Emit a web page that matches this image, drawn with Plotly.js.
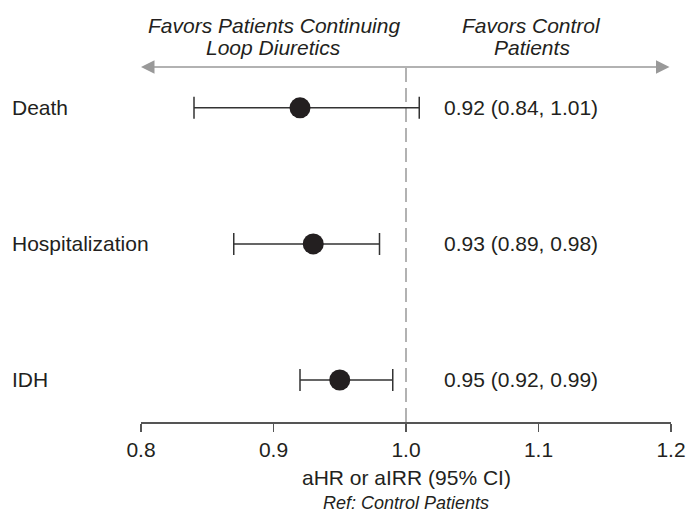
<!DOCTYPE html>
<html>
<head>
<meta charset="utf-8">
<script src="https://cdn.plot.ly/plotly-3.0.1.min.js"></script>
<style>html,body{margin:0;padding:0;background:#fff;}#chart{width:686px;height:519px;}</style>
</head>
<body>
<div id="chart"></div>
<script>
const outcomes = ["Death", "Hospitalization", "IDH"];
const estimates = [0.92, 0.93, 0.95];
// interval ends as drawn in the picture
const lowerCI = [0.84, 0.87, 0.92];
const upperCI = [1.01, 0.98, 0.99];
// interval text as printed in the picture
const ciLabels = ["0.92 (0.84, 1.01)", "0.93 (0.89, 0.98)", "0.95 (0.92, 0.99)"];
const tickValues = [0.8, 0.9, 1.0, 1.1, 1.2];
const tickLabels = ["0.8", "0.9", "1.0", "1.1", "1.2"];
const leftHeader = ["Favors Patients Continuing", "Loop Diuretics"];
const rightHeader = ["Favors Control", "Patients"];
const xTitle = "aHR or aIRR (95% CI)";
const refNote = "Ref: Control Patients";

const FONT = "Liberation Sans, Arial, Helvetica, sans-serif";
const TXT = "#231f20";
const FS = 21;

const trace = {
  type: "scatter",
  mode: "markers",
  x: estimates,
  y: outcomes,
  marker: {size: 21, color: TXT},
  error_x: {
    type: "data",
    symmetric: false,
    array: estimates.map((e, i) => upperCI[i] - e),
    arrayminus: estimates.map((e, i) => e - lowerCI[i]),
    color: "#333",
    thickness: 1.5,
    width: 11
  },
  hoverinfo: "skip",
  cliponaxis: false
};

const annotations = [];
outcomes.forEach((o, i) => {
  annotations.push({
    xref: "paper", yref: "y", x: -0.247, y: o, xanchor: "left", yanchor: "middle",
    text: o, showarrow: false, font: {family: FONT, size: FS, color: TXT}
  });
  annotations.push({
    xref: "x", yref: "y", x: 1.027, y: o, xanchor: "left", yanchor: "middle",
    text: ciLabels[i], showarrow: false, font: {family: FONT, size: FS, color: TXT}
  });
});
const headerY = [1.118, 1.056];
leftHeader.forEach((t, i) => annotations.push({
  xref: "x", yref: "paper", x: 0.9, y: headerY[i], xanchor: "center", yanchor: "middle",
  text: "<i>" + t + "</i>", showarrow: false, font: {family: FONT, size: FS, color: TXT}
}));
rightHeader.forEach((t, i) => annotations.push({
  xref: "x", yref: "paper", x: 1.095, y: headerY[i], xanchor: "center", yanchor: "middle",
  text: "<i>" + t + "</i>", showarrow: false, font: {family: FONT, size: FS, color: TXT}
}));
// double-headed arrow
annotations.push({
  xref: "x", yref: "paper", x: tickValues[0], y: 1,
  axref: "x", ayref: "pixel", ax: tickValues[tickValues.length - 1], ay: 0,
  text: "", showarrow: true, arrowside: "end+start", arrowhead: 2, arrowsize: 1.8,
  arrowwidth: 1.5, arrowcolor: "#999", standoff: 0, startstandoff: 0
});
// x-axis title
annotations.push({
  xref: "paper", yref: "paper", x: 0.5, y: -0.155, xanchor: "center", yanchor: "middle",
  text: xTitle, showarrow: false, font: {family: FONT, size: FS, color: TXT}
});
annotations.push({
  xref: "paper", yref: "paper", x: 0.5, y: -0.228, xanchor: "center", yanchor: "middle",
  text: "<i>" + refNote + "</i>", showarrow: false, font: {family: FONT, size: 18, color: TXT}
});

const layout = {
  width: 686, height: 519,
  margin: {l: 141, r: 15, t: 67, b: 97},
  paper_bgcolor: "#fff", plot_bgcolor: "#fff",
  showlegend: false,
  font: {family: FONT, size: FS, color: TXT},
  xaxis: {
    range: [0.8, 1.2], tickvals: tickValues, ticktext: tickLabels,
    ticks: "outside", ticklen: 8, tickwidth: 1.5, tickcolor: "#555",
    showline: true, linecolor: "#555", linewidth: 1.5,
    showgrid: false, zeroline: false,
    tickfont: {family: FONT, size: FS, color: TXT},
    fixedrange: true
  },
  yaxis: {
    type: "category", categoryarray: ["IDH", "Hospitalization", "Death"],
    range: [-0.309, 2.30], showticklabels: false, showgrid: false,
    zeroline: false, showline: false, ticks: "", fixedrange: true
  },
  shapes: [{
    type: "line", xref: "x", yref: "paper", x0: 1.0, x1: 1.0, y0: 0, y1: 1,
    line: {color: "#999", width: 1.5, dash: "14px,6px"}, layer: "below"
  }],
  annotations: annotations
};

Plotly.newPlot("chart", [trace], layout, {displayModeBar: false, staticPlot: true});
</script>
</body>
</html>
